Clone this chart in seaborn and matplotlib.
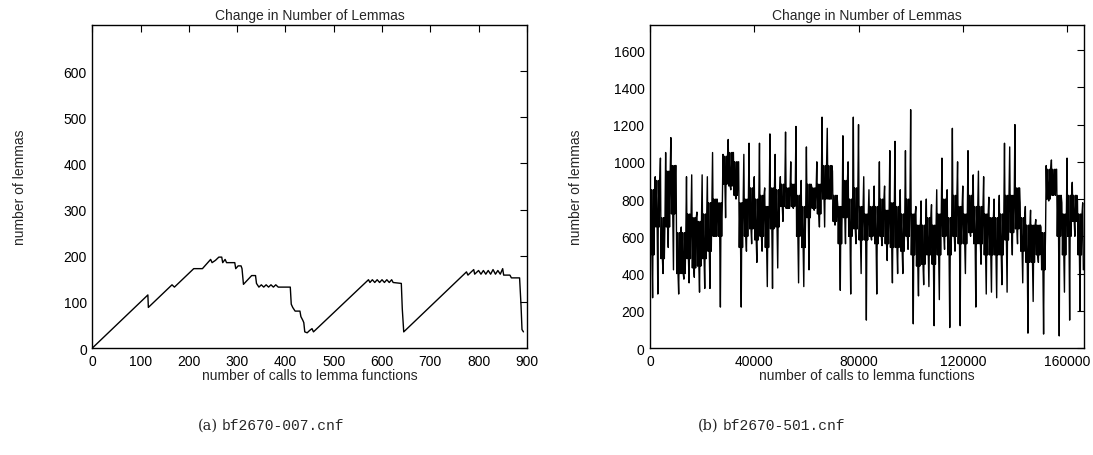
import numpy as np
import pandas as pd
import seaborn as sns
import matplotlib.pyplot as plt

sns.set_style('white')
plt.rcParams['font.family'] = ['Liberation Sans', 'DejaVu Sans']

# (a) bf2670-007.cnf : vertices
calls_a = [0, 115, 116, 165, 170, 210, 228, 245, 248, 255, 262, 268, 270, 275, 278,
           295, 297, 302, 308, 310, 313, 330, 338, 340, 345, 350, 355, 360, 365, 370,
           375, 380, 385, 410, 412, 415, 420, 430, 432, 436, 438, 440, 445, 450, 455,
           458, 572, 575, 580, 585, 590, 595, 600, 605, 610, 615, 620, 623, 640, 642,
           645, 770, 775, 778, 785, 790, 792, 800, 805, 810, 815, 820, 825, 830, 835,
           840, 845, 850, 852, 865, 868, 885, 888, 890, 893]
lemmas_a = [0, 115, 88, 137, 132, 172, 172, 192, 185, 190, 197, 197, 185, 192, 185,
            185, 172, 178, 178, 172, 138, 157, 157, 140, 132, 137, 132, 137, 132, 137,
            132, 137, 132, 132, 95, 88, 80, 80, 68, 60, 55, 35, 33, 38, 42,
            35, 148, 142, 148, 142, 148, 142, 148, 142, 148, 142, 148, 142, 140, 85,
            35, 160, 165, 158, 165, 170, 160, 168, 160, 168, 160, 168, 160, 170, 160,
            168, 160, 172, 158, 158, 152, 152, 92, 40, 35]

# (b) bf2670-501.cnf : per 2000-call bin, upper spike, band top, band bottom, lower spike
bin_hi = [1000, 920, 1020, 1050, 1130, 980, 650, 920, 930, 730, 930, 920, 1050, 760,
          1040, 1120, 1050, 1000, 1040, 1100, 920, 1100, 860, 1150, 1040, 920, 1160, 1000,
          1190, 900, 1080, 870, 1000, 1240, 1180, 950, 770, 1140, 1000, 1240, 1200, 920,
          850, 870, 1000, 870, 1060, 1110, 850, 1060, 1280, 760, 790, 800, 770, 850,
          1020, 850, 1180, 1000, 870, 1060, 930, 950, 920, 810, 800, 820, 1100, 1080,
          1200, 780, 760, 740, 690, 650, 980, 1010, 960, 780, 1020, 890, 790, 780]
band_top = [850, 900, 700, 950, 980, 620, 620, 720, 700, 680, 720, 780, 800, 780,
            1030, 1050, 1000, 780, 800, 860, 800, 820, 760, 860, 850, 880, 860, 880,
            820, 760, 880, 860, 880, 980, 980, 820, 760, 900, 800, 860, 760, 720,
            760, 760, 800, 740, 780, 760, 720, 800, 720, 660, 660, 700, 660, 720,
            800, 700, 820, 760, 720, 820, 760, 760, 720, 700, 700, 720, 820, 820,
            860, 700, 660, 660, 660, 620, 960, 960, 820, 720, 820, 820, 720, 700]
band_bot = [500, 650, 480, 650, 720, 400, 400, 480, 430, 440, 480, 520, 600, 600,
            880, 870, 820, 540, 600, 640, 580, 600, 540, 640, 650, 760, 750, 760,
            600, 540, 700, 750, 720, 800, 800, 680, 560, 700, 600, 640, 580, 580,
            600, 560, 600, 560, 540, 540, 520, 600, 500, 440, 450, 500, 450, 500,
            600, 500, 600, 560, 560, 620, 560, 560, 500, 500, 500, 500, 580, 620,
            640, 520, 460, 460, 500, 420, 800, 820, 600, 500, 600, 680, 500, 420]
bin_lo = [270, 290, 400, 540, 420, 290, 370, 350, 380, 300, 320, 320, 600, 220,
          700, 850, 800, 220, 520, 560, 460, 520, 330, 320, 430, 680, 750, 750,
          350, 330, 420, 740, 650, 650, 800, 660, 310, 560, 290, 560, 400, 150,
          580, 290, 550, 470, 350, 400, 400, 530, 130, 280, 340, 330, 120, 260,
          530, 110, 520, 120, 400, 600, 220, 450, 290, 300, 270, 340, 300, 500,
          560, 350, 80, 250, 460, 75, 790, 830, 65, 300, 150, 600, 200, 40]

vals_b = []
for h, t, b, l in zip(bin_hi, band_top, band_bot, bin_lo):
    vals_b += [h, b, t, b, l, t, b, t]
vals_b = vals_b[:-6]
calls_b = np.arange(len(vals_b)) * (2000 / 8)

df_a = pd.DataFrame({'calls': calls_a, 'lemmas': lemmas_a})
df_b = pd.DataFrame({'calls': calls_b, 'lemmas': vals_b})

fig = plt.figure(figsize=(10.93, 4.56), dpi=100)
ax1 = fig.add_axes([0.0845, 0.2346, 0.3975, 0.7084])
ax2 = fig.add_axes([0.5947, 0.2346, 0.3973, 0.7084])

sns.lineplot(data=df_a, x='calls', y='lemmas', ax=ax1, color='black', lw=1.0,
             estimator=None, sort=False)
sns.lineplot(data=df_b, x='calls', y='lemmas', ax=ax2, color='black', lw=1.0,
             estimator=None, sort=False)

ax1.set_xlim(0, 900)
ax1.set_ylim(0, 700)
ax1.set_xticks(range(0, 901, 100))
ax1.set_yticks(range(0, 601, 100))
ax2.set_xlim(0, 166600)
ax2.set_ylim(0, 1735)
ax2.set_xticks(range(0, 160001, 40000))
ax2.set_yticks(range(0, 1601, 200))

for ax in (ax1, ax2):
    for s in ax.spines.values():
        s.set_color('black')
        s.set_linewidth(1.0)
    ax.tick_params(direction='in', length=5, width=0.8, top=True, right=True,
                   labelsize=10, pad=4, colors='black')
    ax.set_title('Change in Number of Lemmas', fontsize=10, pad=4)
    ax.set_xlabel('number of calls to lemma functions', fontsize=10, labelpad=0)
ax1.set_ylabel('number of lemmas', fontsize=10, labelpad=26)
ax2.set_ylabel('number of lemmas', fontsize=10, labelpad=22)

fig.text(0.199, 0.058, '(a)', family='DejaVu Serif', fontsize=10.5, ha='right')
fig.text(0.203, 0.058, 'bf2670-007.cnf', family='Liberation Mono', fontsize=10.5, ha='left')
fig.text(0.657, 0.058, '(b)', family='DejaVu Serif', fontsize=10.5, ha='right')
fig.text(0.661, 0.058, 'bf2670-501.cnf', family='Liberation Mono', fontsize=10.5, ha='left')

fig.savefig('out.png', dpi=100)
